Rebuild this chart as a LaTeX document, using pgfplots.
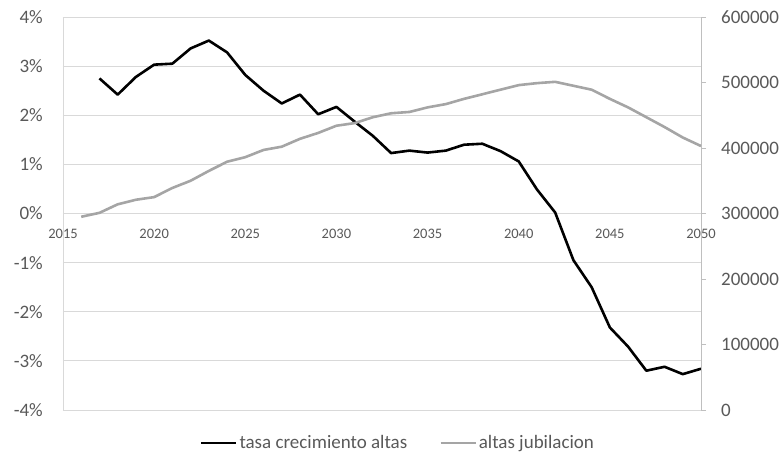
\documentclass[border=0pt]{standalone}
\usepackage{fontspec}
\setmainfont{Carlito}
\usepackage{pgfplots}
\pgfplotsset{compat=1.18}
\definecolor{txt}{HTML}{595959}
\definecolor{grd}{HTML}{D9D9D9}
\definecolor{axl}{HTML}{BFBFBF}
\definecolor{gry}{HTML}{A5A5A5}

\pgfplotstableread{
year val
2017 2.75
2018 2.42
2019 2.78
2020 3.03
2021 3.05
2022 3.36
2023 3.52
2024 3.28
2025 2.82
2026 2.50
2027 2.24
2028 2.42
2029 2.02
2030 2.17
2031 1.87
2032 1.58
2033 1.23
2034 1.28
2035 1.24
2036 1.28
2037 1.40
2038 1.42
2039 1.27
2040 1.06
2041 0.49
2042 0.02
2043 -0.95
2044 -1.50
2045 -2.32
2046 -2.71
2047 -3.20
2048 -3.12
2049 -3.27
2050 -3.16
}\tasa

\pgfplotstableread{
year val
2016 295000
2017 301000
2018 314000
2019 321000
2020 325000
2021 339000
2022 350000
2023 365000
2024 379000
2025 386000
2026 397000
2027 402000
2028 414000
2029 423000
2030 434000
2031 438000
2032 447000
2033 453000
2034 455000
2035 462000
2036 467000
2037 475000
2038 482000
2039 489000
2040 496000
2041 499000
2042 501000
2043 495000
2044 489000
2045 475000
2046 462000
2047 447000
2048 432000
2049 416000
2050 403000
}\altas

\begin{document}
\begin{tikzpicture}
\begin{axis}[
    name=a,
    scale only axis,
    width=638pt, height=393pt,
    xmin=2015, xmax=2050,
    ymin=-4, ymax=4,
    axis y line*=left,
    axis x line*=middle,
    hide obscured x ticks=false,
    y axis line style={draw=grd, line width=0.8pt},
    x axis line style={draw=grd, line width=0.8pt},
    xtick={2015,2020,2025,2030,2035,2040,2045,2050},
    xticklabels={2015,2020,2025,2030,2035,2040,2045,2050},
    ytick={-4,-3,-2,-1,0,1,2,3,4},
    yticklabels={-4\%,-3\%,-2\%,-1\%,0\%,1\%,2\%,3\%,4\%},
    major tick length=0pt,
    xtick style={draw=none},
    ytick style={draw=none},
    ymajorgrids,
    grid style={draw=grd, line width=0.8pt},
    xticklabel style={font=\fontsize{14.5}{17}\selectfont, text=txt, inner sep=0pt, anchor=north, yshift=-15pt},
    yticklabel style={font=\fontsize{19}{22}\selectfont, text=txt, inner sep=0pt, anchor=east, xshift=-20pt},
]
\addplot[black, line width=2.6pt, line join=round] table[x=year, y=val] {\tasa};
\end{axis}
\begin{axis}[
    scale only axis,
    width=638pt, height=393pt,
    xmin=2015, xmax=2050,
    ymin=0, ymax=600000,
    axis y line*=right,
    axis x line=none,
    scaled y ticks=false,
    ytick={0,100000,200000,300000,400000,500000,600000},
    yticklabels={0,100000,200000,300000,400000,500000,600000},
    y axis line style={draw=axl, line width=0.8pt},
    tick align=outside,
    major tick length=5pt,
    ytick style={draw=axl, line width=0.8pt},
    yticklabel style={font=\fontsize{19}{22}\selectfont, text=txt, inner sep=0pt, anchor=west, xshift=15pt},
    legend columns=2,
    legend style={draw=none, fill=none, at={(0.525,-0.084)}, anchor=center,
        font=\fontsize{19}{22}\selectfont, text=txt,
        /tikz/every even column/.append style={column sep=30pt}},
    legend cell align=left,
    legend image code/.code={\draw[#1] (0pt,0pt) -- (35pt,0pt);},
]
\addlegendimage{black, line width=2.6pt}
\addlegendentry{tasa crecimiento altas}
\addplot[gry, line width=2.6pt, line join=round] table[x=year, y=val] {\altas};
\addlegendentry{altas jubilacion}
\end{axis}
\path (a.south west) +(-63pt,-49pt) (a.north east) +(82pt,17pt);
\end{tikzpicture}
\end{document}
